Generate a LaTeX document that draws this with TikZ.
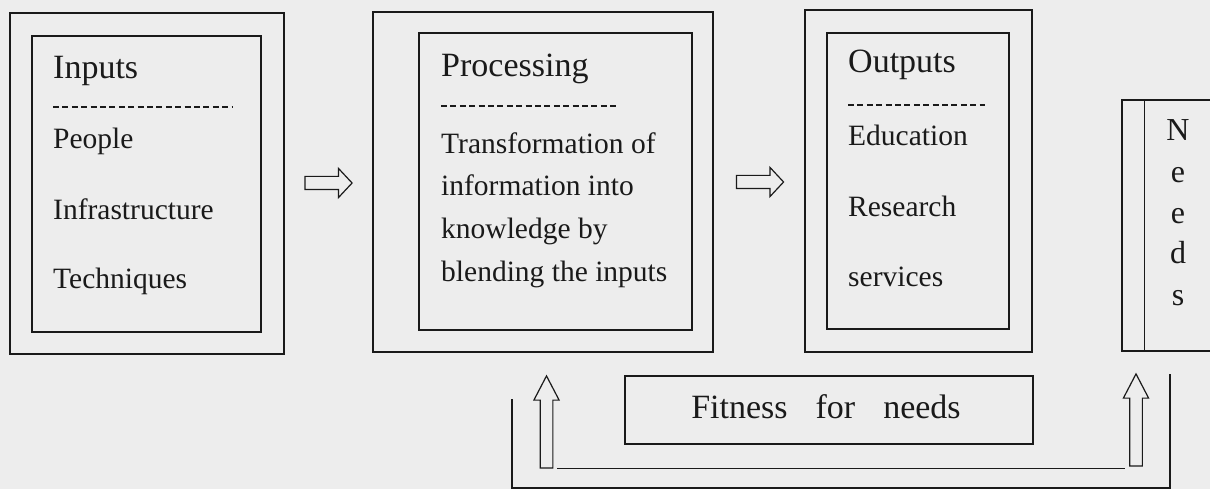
\documentclass[tikz,border=0pt]{standalone}
\usepackage{fontspec}
\setmainfont{Liberation Serif}
\usetikzlibrary{shapes.arrows}
\definecolor{paper}{HTML}{EDEDED}
\definecolor{ink}{HTML}{1A1A1A}
\tikzset{
  box/.style={draw=ink, line width=1.3pt, inner sep=0pt},
  head/.style={anchor=base west, inner sep=0pt, text=ink, font=\fontsize{34}{40}\selectfont},
  item/.style={anchor=base west, inner sep=0pt, text=ink, font=\fontsize{29.5}{36}\selectfont},
  letter/.style={anchor=base, inner sep=0pt, text=ink, font=\fontsize{32}{38}\selectfont},
  rule/.style={draw=ink, line width=1.1pt, dash pattern=on 6pt off 3.4pt},
  link/.style={draw=ink, line width=1.3pt},
  rarrow/.style={single arrow, draw=ink, line width=1.2pt, inner xsep=0pt, inner ysep=6pt,
    minimum height=47pt, single arrow head extend=8pt, single arrow tip angle=94},
  uarrow/.style={single arrow, draw=ink, line width=1.2pt, inner xsep=0pt, inner ysep=5.75pt,
    minimum height=92pt, single arrow head extend=6.25pt, single arrow tip angle=55, rotate=90}
}
\begin{document}
\begin{tikzpicture}[x=1pt,y=-1pt]
\clip (0,0) rectangle (1210,489);
\fill[paper] (0,0) rectangle (1210,489);
% inputs
\node[box, minimum width=274pt, minimum height=341pt] (inOuter) at (147,183.5){};
\node[box, minimum width=229pt, minimum height=296pt] (inInner) at (146.5,184){};
\node[head] (inHead) at (53,79){Inputs};
\draw[rule] (53,107) -- (232,107);
\node[item] (inA) at (53,149){People};
\node[item] (inB) at (53,219){Infrastructure};
\node[item] (inC) at (53,288){Techniques};
\node[rarrow] (arr1) at (325.5,183){};
% processing
\node[box, minimum width=340pt, minimum height=340pt] (prOuter) at (543,182){};
\node[box, minimum width=273pt, minimum height=297pt] (prInner) at (555.5,181.5){};
\node[head] (prHead) at (441,77){Processing};
\draw[rule] (441,106) -- (618,106);
\node[item] (prA) at (441,154){Transformation of};
\node[item] (prB) at (441,196){information into};
\node[item] (prC) at (441,238){knowledge by};
\node[item] (prD) at (441,281){blending the inputs};
\node[rarrow] (arr2) at (757,182){};
% outputs
\node[box, minimum width=227pt, minimum height=342pt] (ouOuter) at (918.5,181){};
\node[box, minimum width=182pt, minimum height=296pt] (ouInner) at (918,181){};
\node[head] (ouHead) at (848,73){Outputs};
\draw[rule] (848,105) -- (985,105);
\node[item] (ouA) at (848,146){Education};
\node[item] (ouB) at (848,217){Research};
\node[item] (ouC) at (848,286){services};
% needs
\node[box, minimum width=118pt, minimum height=251pt] (needs) at (1181,225.5){};
\draw[link] ([xshift=23pt]needs.north west) -- ([xshift=23pt]needs.south west);
\node[letter] (n1) at (1178,141){N};
\node[letter] (n2) at (1178,183){e};
\node[letter] (n3) at (1178,223){e};
\node[letter] (n4) at (1178,263){d};
\node[letter] (n5) at (1178,305){s};
% feedback
\node[box, minimum width=408pt, minimum height=68pt] (fit) at (829,410){};
\node[anchor=base, inner sep=0pt, text=ink, font=\fontsize{34}{40}\selectfont] (fitText) at (826,418){Fitness\hspace{28pt}for\hspace{28pt}needs};
\node[uarrow] (up1) at (546.5,428){};
\node[uarrow] (up2) at (1136,426){};
\draw[link] ([xshift=10.5pt]up1.tail) -- ([xshift=-11pt]up1.tail -| up2.tail);
\coordinate (loopTop) at (1170,374);
\coordinate (loopBot) at (512,488);
\coordinate (loopEnd) at (512,399);
\draw[link] (loopTop) |- (loopBot) -- (loopEnd);
\end{tikzpicture}
\end{document}
